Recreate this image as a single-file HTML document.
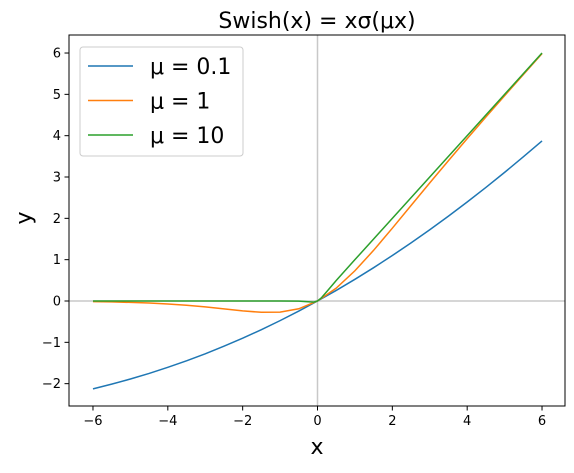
<!DOCTYPE html>
<html><head><meta charset="utf-8"><style>
body{margin:0;background:#fff}
text{font-family:"DejaVu Sans","Liberation Sans",sans-serif}
</style></head><body>
<svg id="chart" width="574" height="468" viewBox="0 0 574 468" xmlns="http://www.w3.org/2000/svg">
<rect width="574" height="468" fill="#fff"/>
<g id="plot"></g>
</svg>
<script>
const xTicks=[-6,-4,-2,0,2,4,6];
const yTicks=[-2,-1,0,1,2,3,4,5,6];
const xA=[-6,-5.5,-5,-4.5,-4,-3.5,-3,-2.5,-2,-1.5,-1,-0.5,0,0.5,1,1.5,2,2.5,3,3.5,4,4.5,5,5.5,6];
const y01=[-2.126,-2.012,-1.888,-1.752,-1.605,-1.447,-1.277,-1.094,-0.900,-0.694,-0.475,-0.244,0,0.256,0.525,0.806,1.100,1.406,1.723,2.053,2.395,2.748,3.112,3.488,3.874];
const y1=[-0.0148,-0.0224,-0.0335,-0.0495,-0.0719,-0.1026,-0.1423,-0.1896,-0.2384,-0.2736,-0.2689,-0.1888,0,0.3112,0.7311,1.2264,1.7616,2.3104,2.8577,3.3974,3.9281,4.4505,4.9665,5.4776,5.9852];
const xB=[-6,-3,-1,-0.5,-0.25,-0.1,0,0.1,0.25,0.5,1,3,6];
const y10=[0,0,0,-0.0033,-0.019,-0.0269,0,0.0731,0.231,0.4967,1,3,6];
const seriesNames=["μ = 0.1","μ = 1","μ = 10"];
const colors=["#1f77b4","#ff7f0e","#2ca02c"];
const L=69,R=565,T=35,B=406;
const sx=v=>317.5+v*37.42;
const sy=v=>301-v*41.33;
const g=document.getElementById('plot');
const NS="http://www.w3.org/2000/svg";
function mk(t,a,txt){const e=document.createElementNS(NS,t);for(const k in a)e.setAttribute(k,a[k]);if(txt!==undefined)e.textContent=txt;g.appendChild(e);return e;}
let e;
e=mk('line',{x1:sx(0),x2:sx(0),y1:T,y2:B,stroke:'#c8c8c8','stroke-width':1.5});


e=mk('line',{x1:L,x2:R,y1:sy(0),y2:sy(0),stroke:'#c8c8c8','stroke-width':1.5});


const sets=[[xA,y01],[xA,y1],[xB,y10]];
sets.forEach((s,i)=>{
 const d=s[0].map((x,j)=>(j?'L':'M')+sx(x).toFixed(2)+','+sy(s[1][j]).toFixed(2)).join('');
 const p=mk('path',{d:d,fill:'none',stroke:colors[i],'stroke-width':1.5});
 
 
});
e=mk('rect',{x:L,y:T,width:R-L,height:B-T,fill:'none',stroke:'#000','stroke-width':1});


xTicks.forEach(v=>{
 const x=sx(v);
 e=mk('line',{x1:x,x2:x,y1:B,y2:B+4.5,stroke:'#000','stroke-width':1});
 
 
 e=mk('text',{x:x,y:B+19,'font-size':13,'text-anchor':'middle'},v<0?'−'+(-v):String(v));
 
 
});
yTicks.forEach(v=>{
 const y=sy(v);
 e=mk('line',{x1:L-4.5,x2:L,y1:y,y2:y,stroke:'#000','stroke-width':1});
 
 
 e=mk('text',{x:L-8,y:y+4.5,'font-size':13,'text-anchor':'end'},v<0?'−'+(-v):String(v));
 
 
});
e=mk('text',{x:317,y:28,'font-size':22,'text-anchor':'middle'},'Swish(x) = xσ(μx)');


e=mk('text',{x:317,y:454,'font-size':22,'text-anchor':'middle'},'x');


e=mk('text',{x:0,y:0,'font-size':22,'text-anchor':'middle',transform:'translate(31,218) rotate(-90)'},'y');


e=mk('rect',{x:80,y:47,width:163,height:109,rx:3,fill:'#fff','fill-opacity':0.8,stroke:'#ccc','stroke-width':1});


seriesNames.forEach((n,i)=>{
 const y=66+i*34.5;
 e=mk('line',{x1:88,x2:133,y1:y,y2:y,stroke:colors[i],'stroke-width':1.5});
 
 
 e=mk('text',{x:150,y:y+8,'font-size':22},n);
 
 
});
</script>
</body></html>
